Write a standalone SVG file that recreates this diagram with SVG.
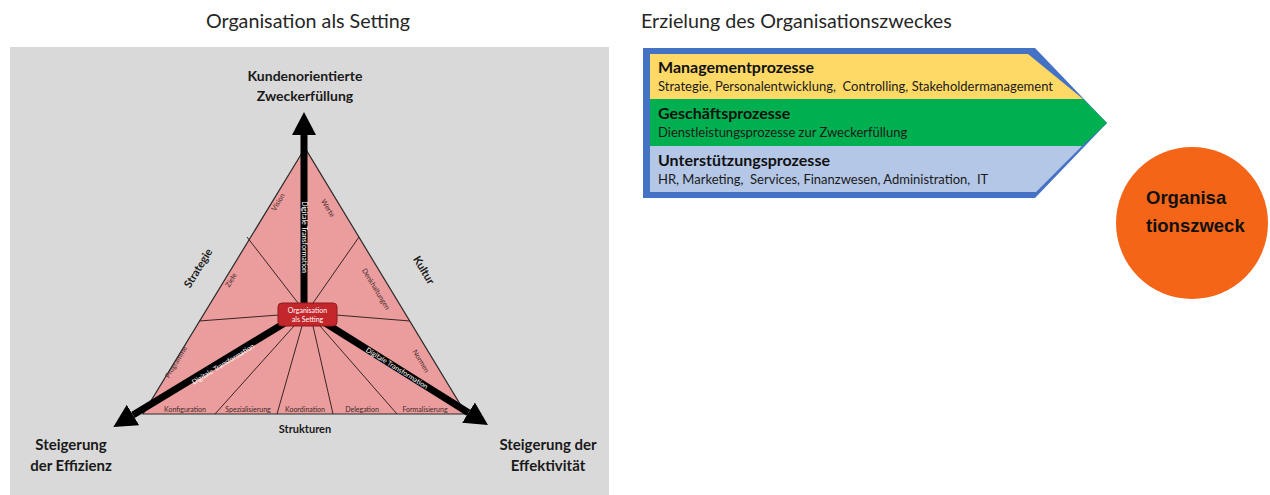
<svg xmlns="http://www.w3.org/2000/svg" width="1270" height="495" viewBox="0 0 1270 495">
  <style>
    .title { font-family: Lato, "Liberation Sans", sans-serif; font-size: 19.7px; fill: #262626; }
    .axis { font-family: Lato, "Liberation Sans", sans-serif; font-size: 15px; font-weight: bold; fill: #1a1a1a; text-anchor: middle; }
    .axis-top { font-size: 14px; }
    .side { font-family: Lato, "Liberation Sans", sans-serif; font-size: 11px; font-weight: bold; fill: #1a1a1a; text-anchor: middle; }
    .seg { font-family: Lato, "Liberation Sans", sans-serif; font-size: 7px; fill: #3d2a2a; text-anchor: middle; }
    .dt { font-family: Lato, "Liberation Sans", sans-serif; font-size: 7px; fill: #ffffff; text-anchor: middle; }
    .divider { stroke: #3a2525; stroke-width: 1; fill: none; }
    .bar { stroke: #000; stroke-width: 7; fill: none; marker-end: url(#head); }
    .ph { font-family: Lato, "Liberation Sans", sans-serif; font-size: 16px; font-weight: bold; fill: #111; }
    .pt { font-family: Lato, "Liberation Sans", sans-serif; font-size: 13px; fill: #1a1a1a; }
    .circ { font-family: "Liberation Sans", Arial, sans-serif; font-size: 18.5px; font-weight: bold; fill: #111; }
  </style>
  <defs>
    <marker id="head" markerUnits="userSpaceOnUse" markerWidth="26" markerHeight="26" refX="0" refY="12" orient="auto">
      <path d="M0,0 L23,12 L0,24 Z" fill="#000"/>
    </marker>
  </defs>

  <rect width="1270" height="495" fill="#ffffff"/>

  <!-- Left: setting triangle -->
  <text class="title" x="308" y="28" text-anchor="middle">Organisation als Setting</text>
  <rect id="panel" x="10" y="47" width="599" height="448" fill="#d9d9d9"/>

  <g id="triangle">
    <polygon points="305,148 143,414 466,414" fill="#eb9c9c" stroke="#2b2b2b" stroke-width="1.2"/>
    <g id="dividers">
      <line class="divider" x1="247" y1="237" x2="298" y2="303"/>
      <line class="divider" x1="199" y1="321" x2="279" y2="315"/>
      <line class="divider" x1="359" y1="237" x2="313" y2="303"/>
      <line class="divider" x1="410" y1="321" x2="336" y2="315"/>
      <line class="divider" x1="215" y1="414" x2="294" y2="326"/>
      <line class="divider" x1="277" y1="414" x2="302" y2="326"/>
      <line class="divider" x1="333" y1="414" x2="313" y2="326"/>
      <line class="divider" x1="397" y1="414" x2="320" y2="326"/>
    </g>
    <g id="segment-labels">
      <text class="seg" transform="translate(278,202) rotate(-58.66)" dy="2.5">Vision</text>
      <text class="seg" transform="translate(231,280) rotate(-58.66)" dy="2.5">Ziele</text>
      <text class="seg" transform="translate(176,362) rotate(-58.66)" dy="2.5">Programme</text>
      <text class="seg" transform="translate(328,208) rotate(58.66)" dy="2.5">Werte</text>
      <text class="seg" transform="translate(376,289) rotate(58.66)" dy="2.5">Denkhaltungen</text>
      <text class="seg" transform="translate(421,361) rotate(58.66)" dy="2.5">Normen</text>
      <text class="seg" x="185" y="412">Konfiguration</text>
      <text class="seg" x="248" y="412">Spezialisierung</text>
      <text class="seg" x="305" y="412">Koordination</text>
      <text class="seg" x="362" y="412">Delegation</text>
      <text class="seg" x="425" y="412">Formalisierung</text>
    </g>
  </g>

  <g id="connectors">
    <line class="bar" x1="304" y1="305" x2="304" y2="135"/>
    <line class="bar" x1="288" y1="321" x2="133" y2="415"/>
    <line class="bar" x1="322" y1="321" x2="468.5" y2="412.7"/>
    <text class="dt" transform="translate(304,237) rotate(90)" dy="2.5">Digitale Transformation</text>
    <text class="dt" transform="translate(223,364) rotate(-31.3)" dy="2.5">Digitale Transformation</text>
    <text class="dt" transform="translate(397,368) rotate(32)" dy="2.5">Digitale Transformation</text>
  </g>

  <g id="center-node">
    <rect x="278" y="303" width="59" height="23" rx="4" fill="#c3262b" stroke="#8e1b1f" stroke-width="1"/>
    <text class="dt" x="307.5" y="313">Organisation</text>
    <text class="dt" x="307.5" y="321.5">als Setting</text>
  </g>

  <g id="side-labels">
    <text class="side" transform="translate(198,268) rotate(-58.66)" dy="4">Strategie</text>
    <text class="side" transform="translate(424,270) rotate(58.66)" dy="4">Kultur</text>
    <text class="side" x="305" y="433">Strukturen</text>
  </g>

  <g id="axis-labels">
    <text class="axis axis-top" x="305" y="81">Kundenorientierte</text>
    <text class="axis axis-top" x="305" y="101">Zweckerfüllung</text>
    <text class="axis" x="71" y="450">Steigerung</text>
    <text class="axis" x="71" y="471">der Effizienz</text>
    <text class="axis" x="548" y="450">Steigerung der</text>
    <text class="axis" x="548" y="471">Effektivität</text>
  </g>

  <!-- Right: value chain -->
  <text class="title" x="641" y="28">Erzielung des Organisationszweckes</text>

  <g id="process-chain">
    <polygon points="643,48 1035,48 1107,123 1035,198 643,198" fill="#4472c4"/>
    <g id="management">
      <polygon points="650,54 1028,54 1083,99 650,99" fill="#ffd966"/>
      <text class="ph" x="658" y="73">Managementprozesse</text>
      <text class="pt" x="658" y="91" xml:space="preserve">Strategie, Personalentwicklung,  Controlling, Stakeholdermanagement</text>
    </g>
    <g id="core">
      <polygon points="650,99 1083,99 1107,123 1082,146 650,146" fill="#00b050"/>
      <text class="ph" x="658" y="119">Geschäftsprozesse</text>
      <text class="pt" x="658" y="137">Dienstleistungsprozesse zur Zweckerfüllung</text>
    </g>
    <g id="support">
      <polygon points="650,146 1082,146 1036,192 650,192" fill="#b4c7e7"/>
      <text class="ph" x="658" y="166">Unterstützungsprozesse</text>
      <text class="pt" x="658" y="184" xml:space="preserve">HR, Marketing,  Services, Finanzwesen, Administration,  IT</text>
    </g>
  </g>

  <g id="purpose">
    <circle cx="1192" cy="223" r="76" fill="#f46518"/>
    <text class="circ" x="1146" y="204">Organisa</text>
    <text class="circ" x="1146" y="232">tionszweck</text>
  </g>
</svg>
